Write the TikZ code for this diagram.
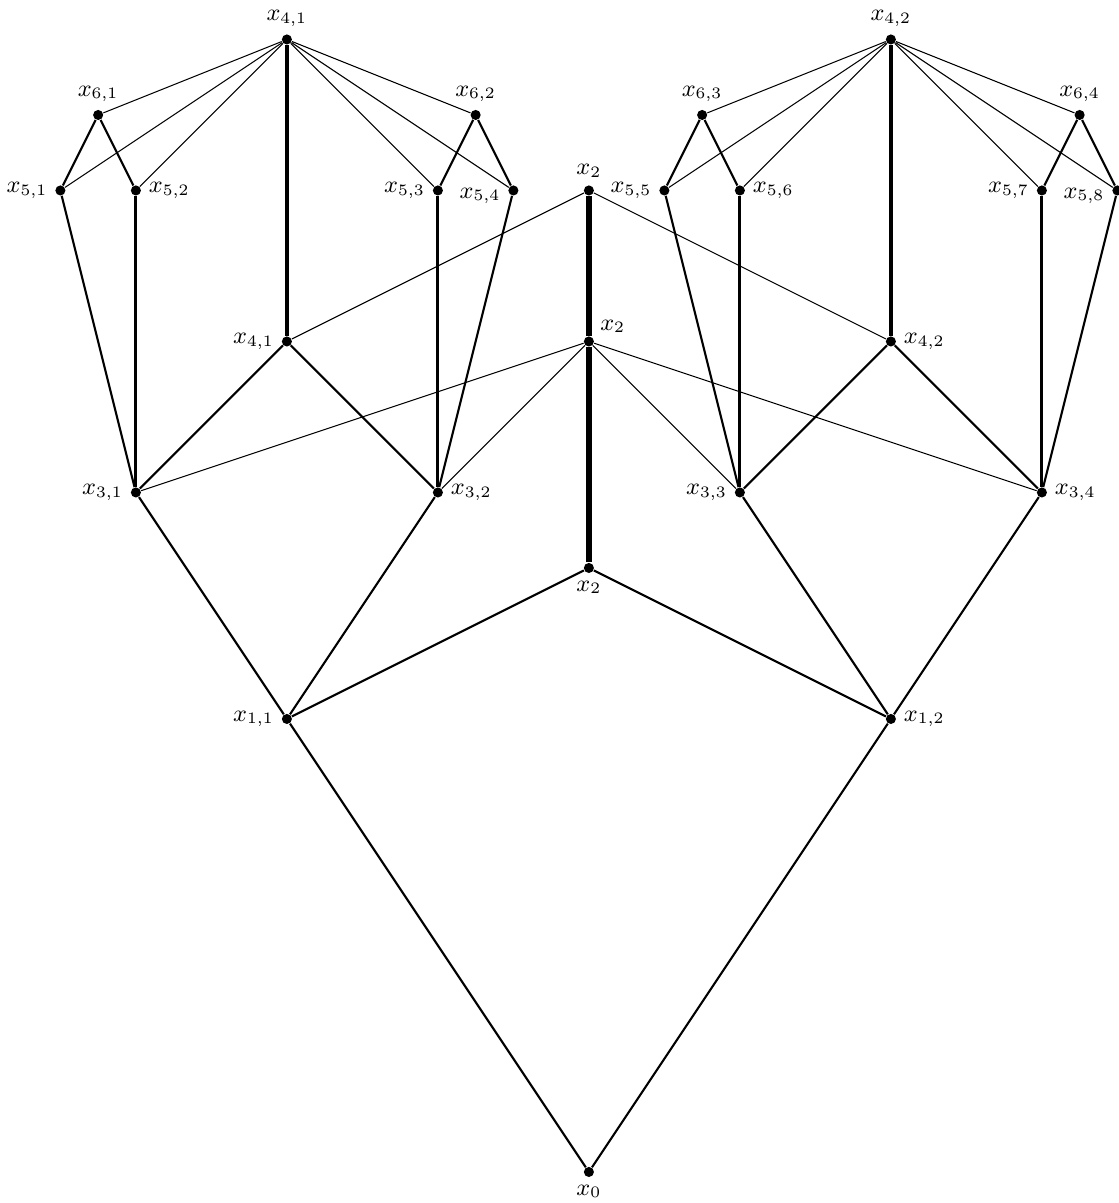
\documentclass[tikz,border=0pt]{standalone}
\begin{document}
\begin{tikzpicture}[
  every label/.style={font=\small,inner sep=2.6pt},
  dot/.style={circle,fill=black,inner sep=0pt,minimum size=3.8pt},
  e/.style={line width=0.8pt},
  ev/.style={line width=1.2pt},
  eu/.style={line width=1.6pt},
  ex/.style={line width=2pt},
  et/.style={line width=0.4pt}
]
\useasboundingbox (-7.80,-0.411) rectangle (7.02,15.523);
% nodes
\node[dot,label=below:$x_0$] (x0) at (0,0) {};
\node[dot,label=left:$x_{1,1}$] (x11) at (-4,6) {};
\node[dot,label=right:$x_{1,2}$] (x12) at (4,6) {};
\node[dot,label=below:$x_2$] (x2a) at (0,8) {};
\node[dot,label=left:$x_{3,1}$] (x31) at (-6,9) {};
\node[dot,label=right:$x_{3,2}$] (x32) at (-2,9) {};
\node[dot,label=left:$x_{3,3}$] (x33) at (2,9) {};
\node[dot,label=right:$x_{3,4}$] (x34) at (6,9) {};
\node[dot,label={[yshift=-1pt]above right:$x_2$}] (x2b) at (0,11) {};
\node[dot,label=left:$x_{4,1}$] (x41a) at (-4,11) {};
\node[dot,label=right:$x_{4,2}$] (x42a) at (4,11) {};
\node[dot,label=above:$x_2$] (x2c) at (0,13) {};
\node[dot,label=left:$x_{5,1}$] (x51) at (-7,13) {};
\node[dot,label=right:$x_{5,2}$] (x52) at (-6,13) {};
\node[dot,label=left:$x_{5,3}$] (x53) at (-2,13) {};
\node[dot,label={[yshift=-2pt]left:$x_{5,4}$}] (x54) at (-1,13) {};
\node[dot,label=left:$x_{5,5}$] (x55) at (1,13) {};
\node[dot,label=right:$x_{5,6}$] (x56) at (2,13) {};
\node[dot,label=left:$x_{5,7}$] (x57) at (6,13) {};
\node[dot,label={[yshift=-2pt]left:$x_{5,8}$}] (x58) at (7,13) {};
\node[dot,label=above:$x_{6,1}$] (x61) at (-6.5,14) {};
\node[dot,label=above:$x_{6,2}$] (x62) at (-1.5,14) {};
\node[dot,label=above:$x_{6,3}$] (x63) at (1.5,14) {};
\node[dot,label=above:$x_{6,4}$] (x64) at (6.5,14) {};
\node[dot,label=above:$x_{4,1}$] (x41b) at (-4,15) {};
\node[dot,label=above:$x_{4,2}$] (x42b) at (4,15) {};
% thick edges
\draw[e] (x0) -- (x11) (x0) -- (x12);
\draw[e] (x11) -- (x31) (x11) -- (x32) (x11) -- (x2a);
\draw[e] (x12) -- (x33) (x12) -- (x34) (x12) -- (x2a);
\draw[e] (x31) -- (x41a) (x32) -- (x41a) (x33) -- (x42a) (x34) -- (x42a);
\draw[e] (x31) -- (x51) (x32) -- (x54) (x33) -- (x55) (x34) -- (x58);
\draw[e] (x51) -- (x61) -- (x52) (x53) -- (x62) -- (x54);
\draw[e] (x55) -- (x63) -- (x56) (x57) -- (x64) -- (x58);
% very thick
\draw[ev] (x31) -- (x52) (x32) -- (x53) (x33) -- (x56) (x34) -- (x57);
\draw[eu] (x41a) -- (x41b) (x42a) -- (x42b);
\draw[ex] (x2a) -- (x2b) -- (x2c);
% thin
\foreach \t in {x61,x51,x52,x53,x54,x62} \draw[et] (x41b) -- (\t);
\foreach \t in {x63,x55,x56,x57,x58,x64} \draw[et] (x42b) -- (\t);
\draw[et] (x2c) -- (x41a) (x2c) -- (x42a);
\foreach \t in {x31,x32,x33,x34} \draw[et] (x2b) -- (\t);
\end{tikzpicture}
\end{document}
